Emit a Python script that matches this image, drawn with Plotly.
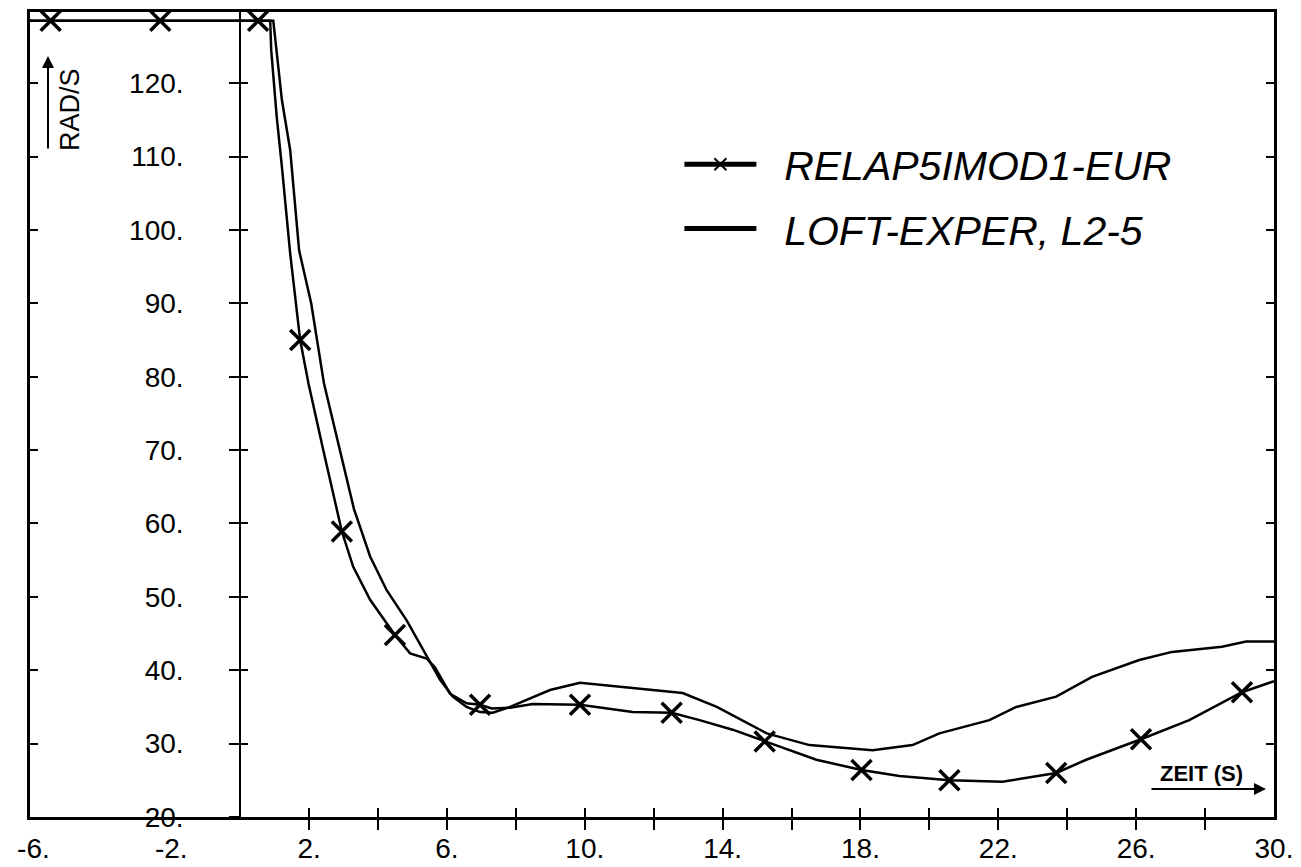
import plotly.graph_objects as go

# ---- data ----
relap_t = [-6.1, -5.5, -2.32, 0.52, 0.87, 0.90, 1.06, 1.21, 1.45, 1.74, 1.98, 2.41, 2.95, 3.28, 3.77,
           4.49, 4.93, 5.41, 5.65, 6.09, 6.57, 6.96, 7.30, 7.83, 8.49, 9.86, 11.39, 12.52, 13.33,
           14.29, 15.22, 16.72, 18.03, 19.13, 20.58, 22.12, 23.68, 24.55, 26.14, 27.54, 29.07, 29.86, 30.0]
relap_w = [128.5, 128.5, 128.5, 128.5, 128.5, 124.5, 115.4, 108.6, 96.8, 85.0, 79.1, 70.0, 58.9, 54.1, 49.6,
           44.8, 42.3, 41.6, 40.4, 36.8, 35.5, 35.3, 34.8, 34.9, 35.4, 35.3, 34.3, 34.2, 33.2,
           31.9, 30.3, 27.8, 26.4, 25.6, 25.0, 24.8, 26.0, 27.8, 30.6, 33.2, 37.0, 38.3, 38.5]
relap_marker_t = [-5.5, -2.32, 0.52, 1.74, 2.95, 4.49, 6.96, 9.86, 12.52, 15.22, 18.03, 20.58, 23.68, 26.14, 29.07]

loft_t = [-6.1, 0.96, 1.21, 1.45, 1.71, 2.06, 2.43, 2.90, 3.30, 3.77, 4.25, 4.83, 5.31, 5.60, 5.80,
          6.17, 6.57, 6.96, 7.33, 7.83, 8.99, 9.86, 11.39, 12.84, 13.83, 15.28, 16.52, 17.68, 18.35,
          19.51, 20.29, 21.74, 22.52, 23.68, 24.72, 26.09, 27.04, 28.49, 29.19, 29.86, 30.0]
loft_w = [128.5, 128.5, 117.7, 110.9, 97.2, 90.0, 79.1, 70.0, 62.0, 55.5, 50.9, 46.8, 42.8, 40.5, 38.7,
          36.4, 35.0, 34.3, 34.2, 35.0, 37.3, 38.3, 37.6, 36.9, 35.0, 31.4, 29.8, 29.4, 29.1,
          29.8, 31.4, 33.2, 35.0, 36.4, 39.1, 41.4, 42.5, 43.2, 43.9, 43.9, 43.9]

x_tick_vals = [2, 4, 6, 8, 10, 12, 14, 16, 18, 20, 22, 24, 26, 28]
x_label_vals = [-6, -2, 2, 6, 10, 14, 18, 22, 26, 30]
x_label_text = ["-6.", "-2.", "2.", "6.", "10.", "14.", "18.", "22.", "26.", "30."]
y_tick_vals = [20, 30, 40, 50, 60, 70, 80, 90, 100, 110, 120]
y_label_text = ["20.", "30.", "40.", "50.", "60.", "70.", "80.", "90.", "100.", "110.", "120."]

relap_name = "RELAP5IMOD1-EUR"
loft_name = "LOFT-EXPER, L2-5"

# ---- figure ----
XR = [-6.1, 30]
YR = [20, 129.7]
yaxis_pos = (0 - XR[0]) / (XR[1] - XR[0])

marker_sizes = [20 if t in relap_marker_t else 0 for t in relap_t]
GAP = "\u00a0\u00a0"

fig = go.Figure()
fig.add_trace(go.Scatter(
    x=relap_t, y=relap_w, name=GAP + relap_name, mode="lines+markers", legendgroup="a",
    line=dict(color="#000000", width=2.5),
    marker=dict(symbol="x-thin", size=marker_sizes, color="#000000", opacity=1,
                line=dict(color="#000000", width=3.5)),
))
fig.add_trace(go.Scatter(
    x=loft_t, y=loft_w, name=GAP + loft_name, mode="lines", legendgroup="b",
    line=dict(color="#000000", width=2.5),
))

common_font = dict(family="Liberation Sans, Arial, sans-serif", size=28, color="black")

fig.update_layout(
    width=1301, height=867,
    margin=dict(l=30, r=27, t=12, b=50, autoexpand=False),
    paper_bgcolor="white", plot_bgcolor="white",
    showlegend=True,
    legend=dict(
        x=0.522, y=0.852, xanchor="left", yanchor="top",
        bgcolor="rgba(0,0,0,0)",
        font=dict(family="Liberation Sans, Arial, sans-serif", size=41, color="black", style="italic"),
        itemsizing="constant", itemwidth=72, tracegroupgap=8,
    ),
    xaxis=dict(
        range=XR, showgrid=False, zeroline=False, automargin=False,
        showline=True, linecolor="black", linewidth=2.5, mirror=True,
        tickmode="array", tickvals=x_tick_vals, ticks="outside", ticklen=10,
        tickwidth=2, tickcolor="black", showticklabels=False,
    ),
    xaxis2=dict(
        range=XR, overlaying="x", anchor="y", side="bottom", automargin=False,
        showgrid=False, zeroline=False, showline=False,
        tickmode="array", tickvals=x_tick_vals, ticks="inside", ticklen=9,
        tickwidth=2, tickcolor="black", showticklabels=False,
    ),
    xaxis3=dict(
        range=XR, overlaying="x", anchor="y", side="bottom", automargin=False,
        showgrid=False, zeroline=False, showline=False,
        tickmode="array", tickvals=x_label_vals, ticktext=x_label_text,
        ticks="", tickfont=common_font, ticklabelstandoff=12,
    ),
    yaxis=dict(
        range=YR, anchor="free", position=yaxis_pos, side="left", automargin=False,
        showgrid=False, zeroline=False,
        showline=True, linecolor="black", linewidth=2,
        tickmode="array", tickvals=y_tick_vals, ticktext=y_label_text,
        ticks="outside", ticklen=10, tickwidth=2, tickcolor="black",
        tickfont=common_font, ticklabelstandoff=40,
    ),
    yaxis2=dict(
        range=YR, overlaying="y", anchor="free", position=yaxis_pos, side="left", automargin=False,
        showgrid=False, zeroline=False, showline=False,
        tickmode="array", tickvals=y_tick_vals, ticks="inside", ticklen=7,
        tickwidth=2, tickcolor="black", showticklabels=False,
    ),
    yaxis3=dict(
        range=YR, overlaying="y", anchor="x", side="left", automargin=False,
        showgrid=False, zeroline=False,
        showline=True, linecolor="black", linewidth=2.5, mirror="ticks",
        tickmode="array", tickvals=y_tick_vals, ticks="inside", ticklen=8,
        tickwidth=2, tickcolor="black", showticklabels=False,
    ),
)

# invisible helper traces so the overlay axes are drawn
fig.add_trace(go.Scatter(x=[None], y=[None], xaxis="x2", yaxis="y2", showlegend=False, hoverinfo="skip"))
fig.add_trace(go.Scatter(x=[None], y=[None], xaxis="x3", yaxis="y3", showlegend=False, hoverinfo="skip"))

def px_x(p):
    return (p - 30) / 1244.0

def px_y(p):
    return (817 - p) / 805.0

# y-axis title with upward arrow
fig.add_annotation(x=px_x(70), y=px_y(110), xref="paper", yref="paper", text="RAD/S",
                   textangle=-90, showarrow=False, xanchor="center", yanchor="middle",
                   font=dict(family="Liberation Sans, Arial, sans-serif", size=27, color="black"))
fig.add_annotation(x=px_x(48), y=px_y(56), xref="paper", yref="paper", text="",
                   showarrow=True, ax=0, ay=94, arrowhead=2, arrowsize=1.2, arrowwidth=2,
                   arrowcolor="black")

# x-axis title with right arrow
fig.add_annotation(x=px_x(1201), y=px_y(773), xref="paper", yref="paper", text="<b>ZEIT (S)</b>",
                   showarrow=False, xanchor="center", yanchor="middle",
                   font=dict(family="Liberation Sans, Arial, sans-serif", size=22, color="black"))
fig.add_annotation(x=px_x(1266), y=px_y(789), xref="paper", yref="paper", text="",
                   showarrow=True, ax=-116, ay=0, arrowhead=2, arrowsize=1.2, arrowwidth=2,
                   arrowcolor="black")

fig.write_html("out.html")
